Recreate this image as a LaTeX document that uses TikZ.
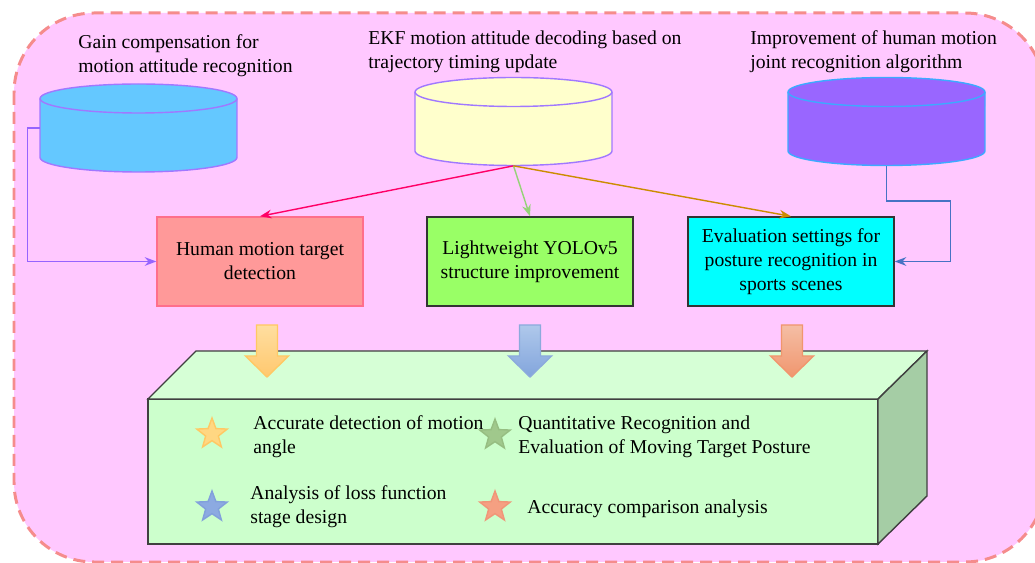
\documentclass[tikz,border=0pt]{standalone}
\usepackage{fontspec}
\setmainfont{Liberation Serif}
\usetikzlibrary{arrows.meta,shapes.geometric}
\definecolor{bgpink}{RGB}{255,200,255}
\definecolor{bgline}{RGB}{245,140,140}
\definecolor{cylblue}{RGB}{100,200,255}
\definecolor{cylyellow}{RGB}{255,255,204}
\definecolor{cylviolet}{RGB}{153,102,255}
\definecolor{cylline}{RGB}{160,120,255}
\definecolor{cylline2}{RGB}{60,170,255}
\definecolor{boxred}{RGB}{255,153,153}
\definecolor{boxredline}{RGB}{255,110,140}
\definecolor{boxgreen}{RGB}{153,255,102}
\definecolor{boxcyan}{RGB}{0,255,255}
\definecolor{cubefront}{RGB}{204,255,204}
\definecolor{cubetop}{RGB}{214,255,214}
\definecolor{cubeside}{RGB}{165,205,165}
\definecolor{cpink}{RGB}{255,0,102}
\definecolor{cgreen}{RGB}{150,210,120}
\definecolor{cgold}{RGB}{204,140,0}
\definecolor{cpurple}{RGB}{150,100,255}
\definecolor{cblue}{RGB}{70,114,196}
\tikzset{>=Stealth,every node/.style={font=\fontsize{11.2}{13.6}\selectfont},
  task/.style={draw,thick,align=center,minimum width=4.12cm,minimum height=1.78cm,inner sep=2pt},
  lbl/.style={anchor=west,align=left,inner sep=0},
  link/.style={thick,->},
  mark5/.style={star,star points=5,star point ratio=2.4,minimum size=0.64cm,inner sep=0,thick},
  cubeline/.style={draw=black!75,thick}}
% drum: name, x, y, fill, line
\newcommand{\drum}[5]{\node[minimum width=3.94cm,minimum height=1.76cm,inner sep=0] (#1) at (#2,#3) {};
  \filldraw[fill=#4,draw=#5,thick] (#2-98.5,#3-29.5) -- (#2-98.5,#3+29.5) arc[start angle=180,end angle=360,x radius=1.97cm,y radius=0.29cm]
    -- (#2+98.5,#3-29.5) arc[start angle=0,end angle=180,x radius=1.97cm,y radius=0.29cm];
  \draw[#5,thick] (#2-98.5,#3-29.5) arc[start angle=180,end angle=360,x radius=1.97cm,y radius=0.29cm];}
\newcommand{\fatarrow}[4]{\shade[top color=#2,bottom color=#3,draw=#4,thick] (#1-10.5,325)--(#1+10.5,325)--(#1+10.5,356)--(#1+21.5,356)--(#1,377)--(#1-21.5,356)--(#1-10.5,356)--cycle;}

\begin{document}
\begin{tikzpicture}[x=0.02cm,y=-0.02cm]
\useasboundingbox (0,0) rectangle (1035,563);
\clip (0,0) rectangle (1035,563);
\draw[fill=bgpink,draw=bgline,line width=1.7pt,dash pattern=on 0.24cm off 0.14cm,rounded corners=1.6cm] (14,13) rectangle (1045,562);
% sources
\drum{gain}{138.5}{128}{cylblue}{cylline}
\drum{ekf}{513.5}{121.5}{cylyellow}{cylline}
\drum{joint}{886.5}{121.5}{cylviolet}{cylline2}
\node[lbl] (gaintxt) at (78,56) {Gain compensation for\\motion attitude recognition};
\node[lbl] (ekftxt) at (368,52) {EKF motion attitude decoding based on\\trajectory timing update};
\node[lbl] (jointtxt) at (750,52) {Improvement of human motion\\joint recognition algorithm};
% tasks
\node[task,fill=boxred,draw=boxredline] (human) at (260,261.5) {Human motion target\\detection};
\node[task,fill=boxgreen,draw=black!80] (yolo) at (530,261.5) {Lightweight YOLOv5\\structure improvement};
\node[task,fill=boxcyan,draw=black!80] (eval) at (791,261.5) {Evaluation settings for\\posture recognition in\\sports scenes};
\draw[link,cpurple] (gain.west) -- ++(-12,0) |- (human.west);
\draw[link,cpink] (ekf.south) -- (human.north);
\draw[link,cgreen] (ekf.south) -- (yolo.north);
\draw[link,cgold] (ekf.south) -- (eval.north);
\draw[link,cblue] (joint.south) -- ++(0,35) -- ++(64,0) |- (eval.east);
% results block
\draw[cubeline,fill=cubefront] (148,399) rectangle (878,544);
\draw[cubeline,fill=cubetop] (148,399)--(196,351)--(927,351)--(878,399)--cycle;
\draw[cubeline,fill=cubeside] (878,399)--(927,351)--(927,496)--(878,544)--cycle;
\fatarrow{267}{{rgb,255:red,255;green,222;blue,160}}{{rgb,255:red,255;green,200;blue,110}}{{rgb,255:red,255;green,200;blue,100}}
\fatarrow{530}{{rgb,255:red,175;green,200;blue,235}}{{rgb,255:red,130;green,165;blue,220}}{{rgb,255:red,140;green,170;blue,220}}
\fatarrow{792}{{rgb,255:red,245;green,190;blue,165}}{{rgb,255:red,240;green,150;blue,110}}{{rgb,255:red,240;green,150;blue,110}}
\node[mark5,fill={rgb,255:red,255;green,215;blue,130},draw={rgb,255:red,255;green,200;blue,100}] (s1) at (212,434) {};
\node[mark5,fill={rgb,255:red,160;green,200;blue,140},draw={rgb,255:red,150;green,190;blue,130}] (s2) at (495,435) {};
\node[mark5,fill={rgb,255:red,140;green,170;blue,225},draw={rgb,255:red,130;green,160;blue,220}] (s3) at (212,507) {};
\node[mark5,fill={rgb,255:red,245;green,160;blue,130},draw={rgb,255:red,240;green,150;blue,120}] (s4) at (495,507) {};
\node[lbl] (r1) at (253,437) {Accurate detection of motion\\angle};
\node[lbl] (r2) at (518,437) {Quantitative Recognition and\\Evaluation of Moving Target Posture};
\node[lbl] (r3) at (250,507) {Analysis of loss function\\stage design};
\node[lbl] (r4) at (527,509) {Accuracy comparison analysis};
\end{tikzpicture}
\end{document}
